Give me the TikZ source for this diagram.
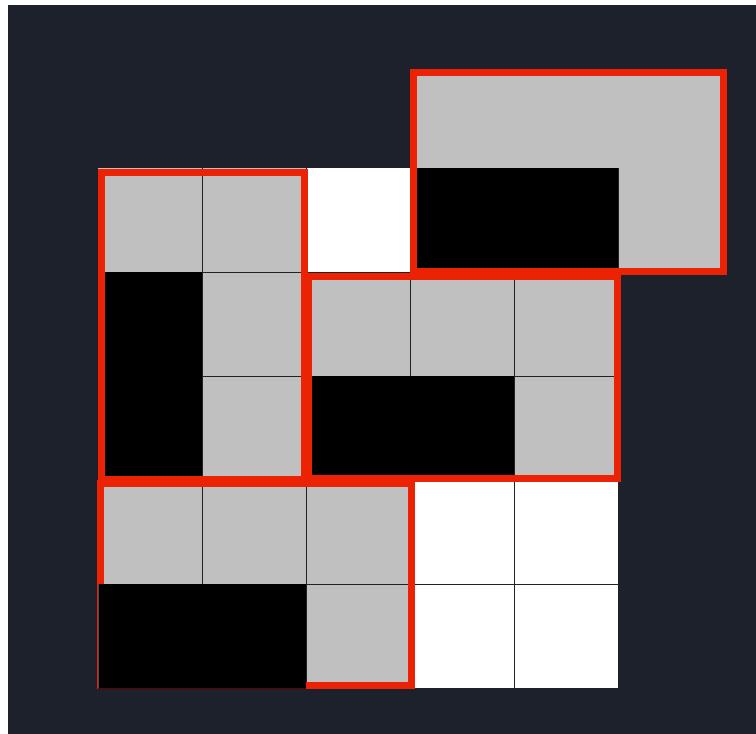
\documentclass[tikz,border=0pt]{standalone}
\definecolor{bgdark}{HTML}{1C212C}
\definecolor{cellgray}{HTML}{C0C0C0}
\definecolor{outred}{RGB}{236,34,4}
\definecolor{gridline}{HTML}{222222}
\tikzset{
  graycell/.style={fill=cellgray},
  blackcell/.style={fill=black},
  whitecell/.style={fill=white},
  gridthin/.style={draw=gridline, line width=0.9pt},
  outline/.style={draw=outred, line width=7pt, line join=miter}
}
\begin{document}
\begin{tikzpicture}[x=1pt,y=-1pt]
\useasboundingbox (0,0) rectangle (756,734);
\fill[white] (0,0) rectangle (756,734);
\fill[bgdark] (8,5) rectangle (756,734);
% gray and white cells
\path[graycell] (98,168) rectangle (306,480);
\path[whitecell] (306,168) rectangle (410,272);
\path[graycell] (410,72) rectangle (722,272);
\path[graycell] (306,272) rectangle (618,480);
\path[graycell] (98,480) rectangle (410,688);
\path[whitecell] (410,480) rectangle (618,688);
% grid lines
\foreach \x in {202,306,410,514,618} \draw[gridthin] (\x,168) -- (\x,688);
\foreach \y in {272,376,480,584,688} \draw[gridthin] (98,\y) -- (618,\y);
% black pieces
\path[blackcell] (98,272) rectangle (202,480);
\path[blackcell] (410,168) rectangle (618,272);
\path[blackcell] (306,376) rectangle (514,480);
% red outlines
\draw[outline] (413.5,72.5) rectangle (723,271.5);
\draw[outline] (101,172.5) rectangle (304,479);
\draw[outline] (308.5,276) rectangle (617,478.5);
\draw[outline] (100.5,483) rectangle (411.5,685.5);
% black piece over bottom-left
\path[blackcell] (98,584) rectangle (306,689);
\draw[gray!60!black, line width=0.6pt] (98,584) -- (98,688.5);
\draw[red!40!black, line width=0.8pt] (98,688.5) -- (306,688.5);
\end{tikzpicture}
\end{document}
